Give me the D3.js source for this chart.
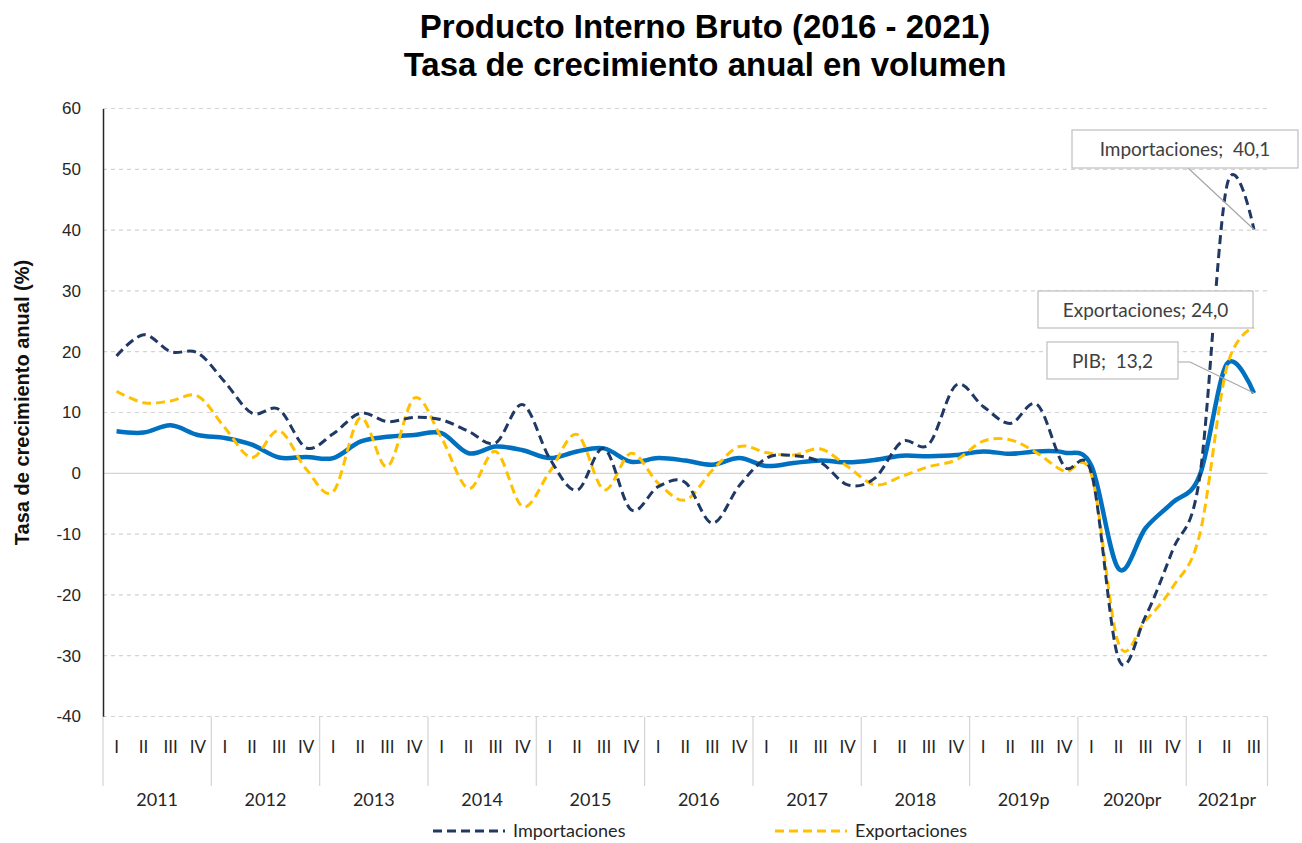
<!DOCTYPE html>
<html>
<head>
<meta charset="utf-8">
<script src="https://cdn.jsdelivr.net/npm/d3@7"></script>
<style>
  body { margin: 0; background: #fff; }
  svg { display: block; }
</style>
</head>
<body>
<svg id="chart" width="1302" height="843"></svg>
<script>
// years and quarters on the category axis
var years = ["2011","2012","2013","2014","2015","2016","2017","2018","2019p","2020pr","2021pr"];
var quartersPerYear = [4,4,4,4,4,4,4,4,4,4,3];
var quarterNames = ["I","II","III","IV"];
var yTicks = [60,50,40,30,20,10,0,-10,-20,-30,-40];

// annual growth, %
var importaciones = [19.3,22.8,20.0,19.8, 15.0,9.9,10.5,4.2, 6.5,9.9,8.5,9.2, 8.8,6.9,5.0,11.3,
    2.4,-2.8,4.1,-6.0, -2.2,-1.5,-8.2,-2.0, 2.5,2.9,1.8,-1.9, -0.8,5.2,4.8,14.5,
    11.0,8.2,11.3,1.1, 0.0,-30.5,-23.5,-12.6, -0.5,47.3,40.1];
var exportaciones = [13.5,11.6,11.9,12.7, 7.5,2.6,7.0,0.7, -3.0,9.1,1.1,12.4, 5.8,-2.5,3.6,-5.5,
    0.3,6.4,-2.7,3.3, -1.6,-4.4,0.5,4.4, 3.4,3.0,4.0,1.1, -1.9,-0.5,1.1,2.2,
    5.3,5.5,3.3,0.3, -0.3,-28.0,-24.2,-18.7, -10.0,17.5,24.0];
var pib = [6.9,6.7,7.9,6.3, 5.8,4.7,2.6,2.7, 2.5,5.2,6.0,6.3, 6.6,3.3,4.4,3.8,
    2.5,3.6,4.1,1.9, 2.5,2.1,1.4,2.5, 1.2,1.7,2.1,1.8, 2.2,2.9,2.8,3.0,
    3.6,3.2,3.6,3.4, 1.2,-15.7,-9.0,-4.8, -0.3,18.0,13.2];

var svg = d3.select("#chart");
var calibri = "Lato, 'Open Sans', sans-serif";
var arial = "'Liberation Sans', Arial, sans-serif";

// flat list of quarters
var periods = [];
years.forEach(function(yr, k){
    for (var q = 0; q < quartersPerYear[k]; q++)
        periods.push({year: yr, q: quarterNames[q], idx: periods.length});
});

var pLeft = 103, pRight = 1267.5, pTop = 108.5, pBottom = 716.5;

var x = d3.scaleBand().domain(d3.range(periods.length)).range([pLeft, pRight]);
var y = d3.scaleLinear().domain([-40, 60]).range([pBottom, pTop]);
function cx(i){ return x(i) + x.bandwidth()/2; }

// title
svg.append("text").attr("x", 705).attr("y", 38).attr("text-anchor", "middle")
    .style("font-family", arial).style("font-weight", "bold").style("font-size", "33px")
    .text("Producto Interno Bruto (2016 - 2021)");
svg.append("text").attr("x", 705).attr("y", 76).attr("text-anchor", "middle")
    .style("font-family", arial).style("font-weight", "bold").style("font-size", "33px")
    .text("Tasa de crecimiento anual en volumen");

// grid
svg.append("g").selectAll("line").data(yTicks).enter().append("line")
    .attr("x1", pLeft).attr("x2", pRight)
    .attr("y1", function(d){ return y(d); }).attr("y2", function(d){ return y(d); })
    .attr("stroke", "#d4d4d4").attr("stroke-width", 1.2)
    .attr("stroke-dasharray", function(d){ return d === 0 ? null : "4,4"; });

// y axis
var yAxis = d3.axisLeft(y).tickValues(yTicks).tickSize(0).tickPadding(22)
    .tickFormat(function(d){ return String(d); });
var gy = svg.append("g").attr("transform", "translate(" + pLeft + ",0)").call(yAxis);
gy.select(".domain").attr("stroke", "#262626").attr("stroke-width", 1.5);
gy.selectAll("text").style("font-family", arial).style("font-size", "17px").attr("fill", "#262626");

svg.append("text")
    .attr("transform", "translate(29," + ((pTop + pBottom)/2 - 10) + ") rotate(-90)")
    .attr("text-anchor", "middle")
    .style("font-family", arial).style("font-weight", "bold").style("font-size", "20px")
    .attr("fill", "#111")
    .text("Tasa de crecimiento anual (%)");

// category axis: quarters and years
var bounds = [0];
quartersPerYear.forEach(function(n, k){ bounds.push(bounds[k] + n); });
svg.append("g").selectAll("line").data(bounds).enter().append("line")
    .attr("x1", function(d){ return d < periods.length ? x(d) : pRight; })
    .attr("x2", function(d){ return d < periods.length ? x(d) : pRight; })
    .attr("y1", pBottom).attr("y2", 786)
    .attr("stroke", "#d4d4d4").attr("stroke-width", 1.2);

svg.append("g").selectAll("text").data(periods).enter().append("text")
    .attr("x", function(d){ return cx(d.idx); }).attr("y", 753)
    .attr("text-anchor", "middle")
    .style("font-family", calibri).style("font-size", "17px").attr("fill", "#262626")
    .text(function(d){ return d.q; });

svg.append("g").selectAll("text").data(years).enter().append("text")
    .attr("x", function(d, k){
        var a = x(bounds[k]), b = bounds[k+1] < periods.length ? x(bounds[k+1]) : pRight;
        return (a + b)/2;
    })
    .attr("y", 806).attr("text-anchor", "middle")
    .style("font-family", calibri).style("font-size", "18px").attr("fill", "#262626")
    .text(function(d){ return d; });

// lines
var line = d3.line().x(function(d, i){ return cx(i); }).y(function(d){ return y(d); })
    .curve(d3.curveCatmullRom.alpha(0));

svg.append("path").datum(pib).attr("d", line).attr("fill", "none")
    .attr("stroke", "#0070c0").attr("stroke-width", 4.5).attr("stroke-linejoin", "round");
svg.append("path").datum(exportaciones).attr("d", line).attr("fill", "none")
    .attr("stroke", "#ffc000").attr("stroke-width", 3).attr("stroke-dasharray", "9,5");
svg.append("path").datum(importaciones).attr("d", line).attr("fill", "none")
    .attr("stroke", "#1f3864").attr("stroke-width", 3).attr("stroke-dasharray", "9,5");

// data labels for last quarter
var last = periods.length - 1;
var labels = [
    {text: "Importaciones;  40,1", v: importaciones[last], bx: 1072, by: 130, bw: 226, bh: 38,
        leader: [[1188, 168]]},
    {text: "Exportaciones; 24,0", v: exportaciones[last], bx: 1038, by: 291, bw: 215, bh: 37,
        leader: []},
    {text: "PIB;  13,2", v: pib[last], bx: 1047, by: 342, bw: 131, bh: 37,
        leader: [[1178, 362], [1190, 362]]}
];
labels.forEach(function(l){
    if (l.leader.length){
        var pts = l.leader.concat([[cx(last), y(l.v)]]);
        svg.append("path").attr("d", d3.line()(pts)).attr("fill", "none")
            .attr("stroke", "#a6a6a6").attr("stroke-width", 1.2);
    }
    svg.append("rect").attr("x", l.bx).attr("y", l.by).attr("width", l.bw).attr("height", l.bh)
        .attr("fill", "#fff").attr("stroke", "#bfbfbf").attr("stroke-width", 1.2);
    svg.append("text").attr("x", l.bx + l.bw/2).attr("y", l.by + l.bh/2 + 7)
        .attr("text-anchor", "middle").style("white-space", "pre")
        .style("font-family", calibri).style("font-size", "19px").attr("fill", "#404040")
        .text(l.text);
});

// legend
var legend = [
    {name: "Importaciones", color: "#1f3864", x: 433},
    {name: "Exportaciones", color: "#ffc000", x: 775}
];
var lg = svg.append("g").selectAll("g").data(legend).enter().append("g");
lg.append("line").attr("x1", function(d){ return d.x; }).attr("x2", function(d){ return d.x + 72; })
    .attr("y1", 831).attr("y2", 831)
    .attr("stroke", function(d){ return d.color; }).attr("stroke-width", 3).attr("stroke-dasharray", "9,5");
lg.append("text").attr("x", function(d){ return d.x + 80; }).attr("y", 837)
    .style("font-family", calibri).style("font-size", "18px").attr("fill", "#262626")
    .text(function(d){ return d.name; });
</script>
</body>
</html>
